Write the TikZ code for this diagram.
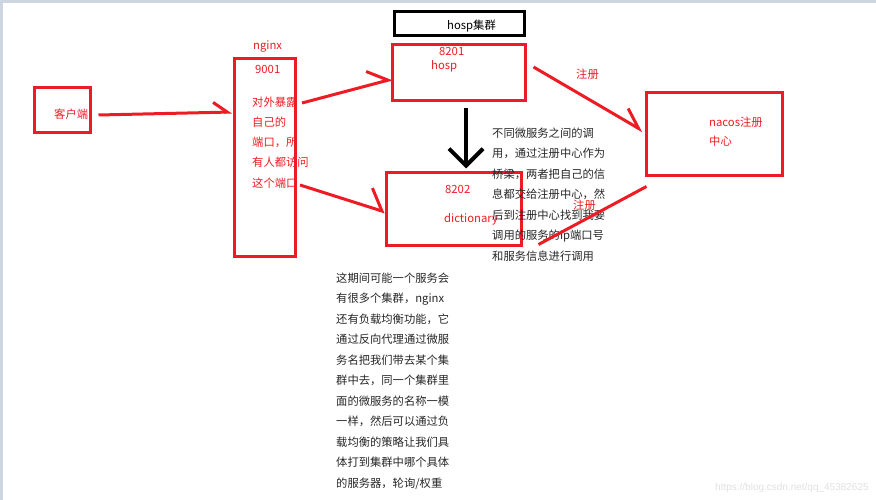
\documentclass[tikz,border=0pt]{standalone}
\usepackage{fontspec}
\newfontfamily\cjk{Noto Sans CJK SC}
\newfontfamily\wmfont{Liberation Sans}
\usetikzlibrary{arrows.meta,calc}
\definecolor{paintred}{RGB}{237,28,36}
\definecolor{framegray}{RGB}{206,214,226}

\begin{document}
\begin{tikzpicture}[
		x=1pt, y=-1pt,
		box/.style={draw=paintred, line width=3pt, inner sep=0pt},
		redtext/.style={text=paintred, font=\cjk\fontsize{11.3}{13}\selectfont, inner sep=0pt, anchor=west},
		note/.style={text=black!85, font=\cjk\fontsize{11.3}{20.5}\selectfont, inner sep=0pt, align=left, anchor=north west},
		link/.style={draw=paintred, line width=3pt},
		barb/.style 2 args={-{Straight Barb[left,length=#1,width=#2]}}
	]
		\useasboundingbox (0,0) rectangle (876,500);

		% Window frame
		\fill[framegray] (0,0) rectangle (876,3);
		\fill[framegray] (0,0) rectangle (3,500);

		% Boxes
		\node[box, minimum width=56pt, minimum height=45pt] (client) at (62,110) {};
		\node[box, minimum width=61pt, minimum height=198pt] (nginx) at (265,157.5) {};
		\node[box, draw=black, minimum width=130pt, minimum height=24pt] (cluster) at (459.5,23.5) {};
		\node[box, minimum width=133pt, minimum height=56pt] (hosp) at (459,72.5) {};
		\node[box, minimum width=135pt, minimum height=73pt] (dict) at (454,209) {};
		\node[box, minimum width=136pt, minimum height=83pt] (nacos) at (714.5,134) {};

		% Labels
		\node[redtext] (clientlbl) at (54,114) {客户端};
		\node[redtext] (nginxlbl) at (253,47) {nginx};
		\node[redtext] (nginxport) at (255,69) {9001};
		\node[redtext, anchor=north west, align=left, font=\cjk\fontsize{11.3}{20.25}\selectfont] (nginxnote) at (252,96.4)
			{对外暴露\\自己的\\端口，所\\有人都访问\\这个端口};
		\node[redtext, text=black] (clusterlbl) at (447,26) {hosp集群};
		\node[redtext] (hospport) at (439,51) {8201};
		\node[redtext] (hosplbl) at (431,66) {hosp};
		\node[redtext] (dictport) at (445,189) {8202};
		\node[redtext] (dictlbl) at (444,219) {dictionary};
		\node[redtext] (nacoslbl) at (709,122) {nacos注册};
		\node[redtext] (nacoslbl2) at (709,141) {中心};
		\node[redtext] (reg1) at (576,74) {注册};

		% Notes
		\node[note] (callnote) at (492,127.4)
			{不同微服务之间的调\\用，通过注册中心作为\\桥梁，两者把自己的信\\息都交给注册中心，然\\后到注册中心找到我要\\调用的服务的ip端口号\\和服务信息进行调用};
		\node[note] (lbnote) at (336,272.4)
			{这期间可能一个服务会\\有很多个集群，nginx\\还有负载均衡功能，它\\通过反向代理通过微服\\务名把我们带去某个集\\群中去，同一个集群里\\面的微服务的名称一模\\一样，然后可以通过负\\载均衡的策略让我们具\\体打到集群中哪个具体\\的服务器，轮询/权重};

		% Connectors
		\draw[link, barb={14pt}{20pt}] ($(client.east)+(7,5)$) -- ($(nginx.west)+(-1,-45.5)$);
		\draw[link, barb={19pt}{28pt}] ($(nginx.north east)+(5,46)$) -- ($(hosp.west)+(1.5,6.5)$);
		\draw[link, barb={16pt}{38pt}] ($(nginx.east)+(3,27.5)$) -- ($(dict.west)+(0,3)$);
		\draw[link, barb={19pt}{24pt}] ($(hosp.east)+(6.5,-5.5)$) -- ($(nacos.west)+(-2,-3)$);
		\draw[link] ($(nacos.south west)+(1.5,9.5)$) -- ($(dict.south east)+(15.5,-2.5)$);
		\draw[line width=4pt, -{Straight Barb[length=17pt,width=34pt]}] ($(hosp.south)+(7,6.5)$) -- ($(dict.north)+(12,-2.5)$);
		\node[redtext] (reg2) at (573,205) {注册};

		% Watermark
		\node[anchor=west, inner sep=0pt, text=black!12, font=\wmfont\fontsize{10}{12}\selectfont] (mark) at (715,488) {https://blog.csdn.net/qq\_45382625};
	\end{tikzpicture}
\end{document}
